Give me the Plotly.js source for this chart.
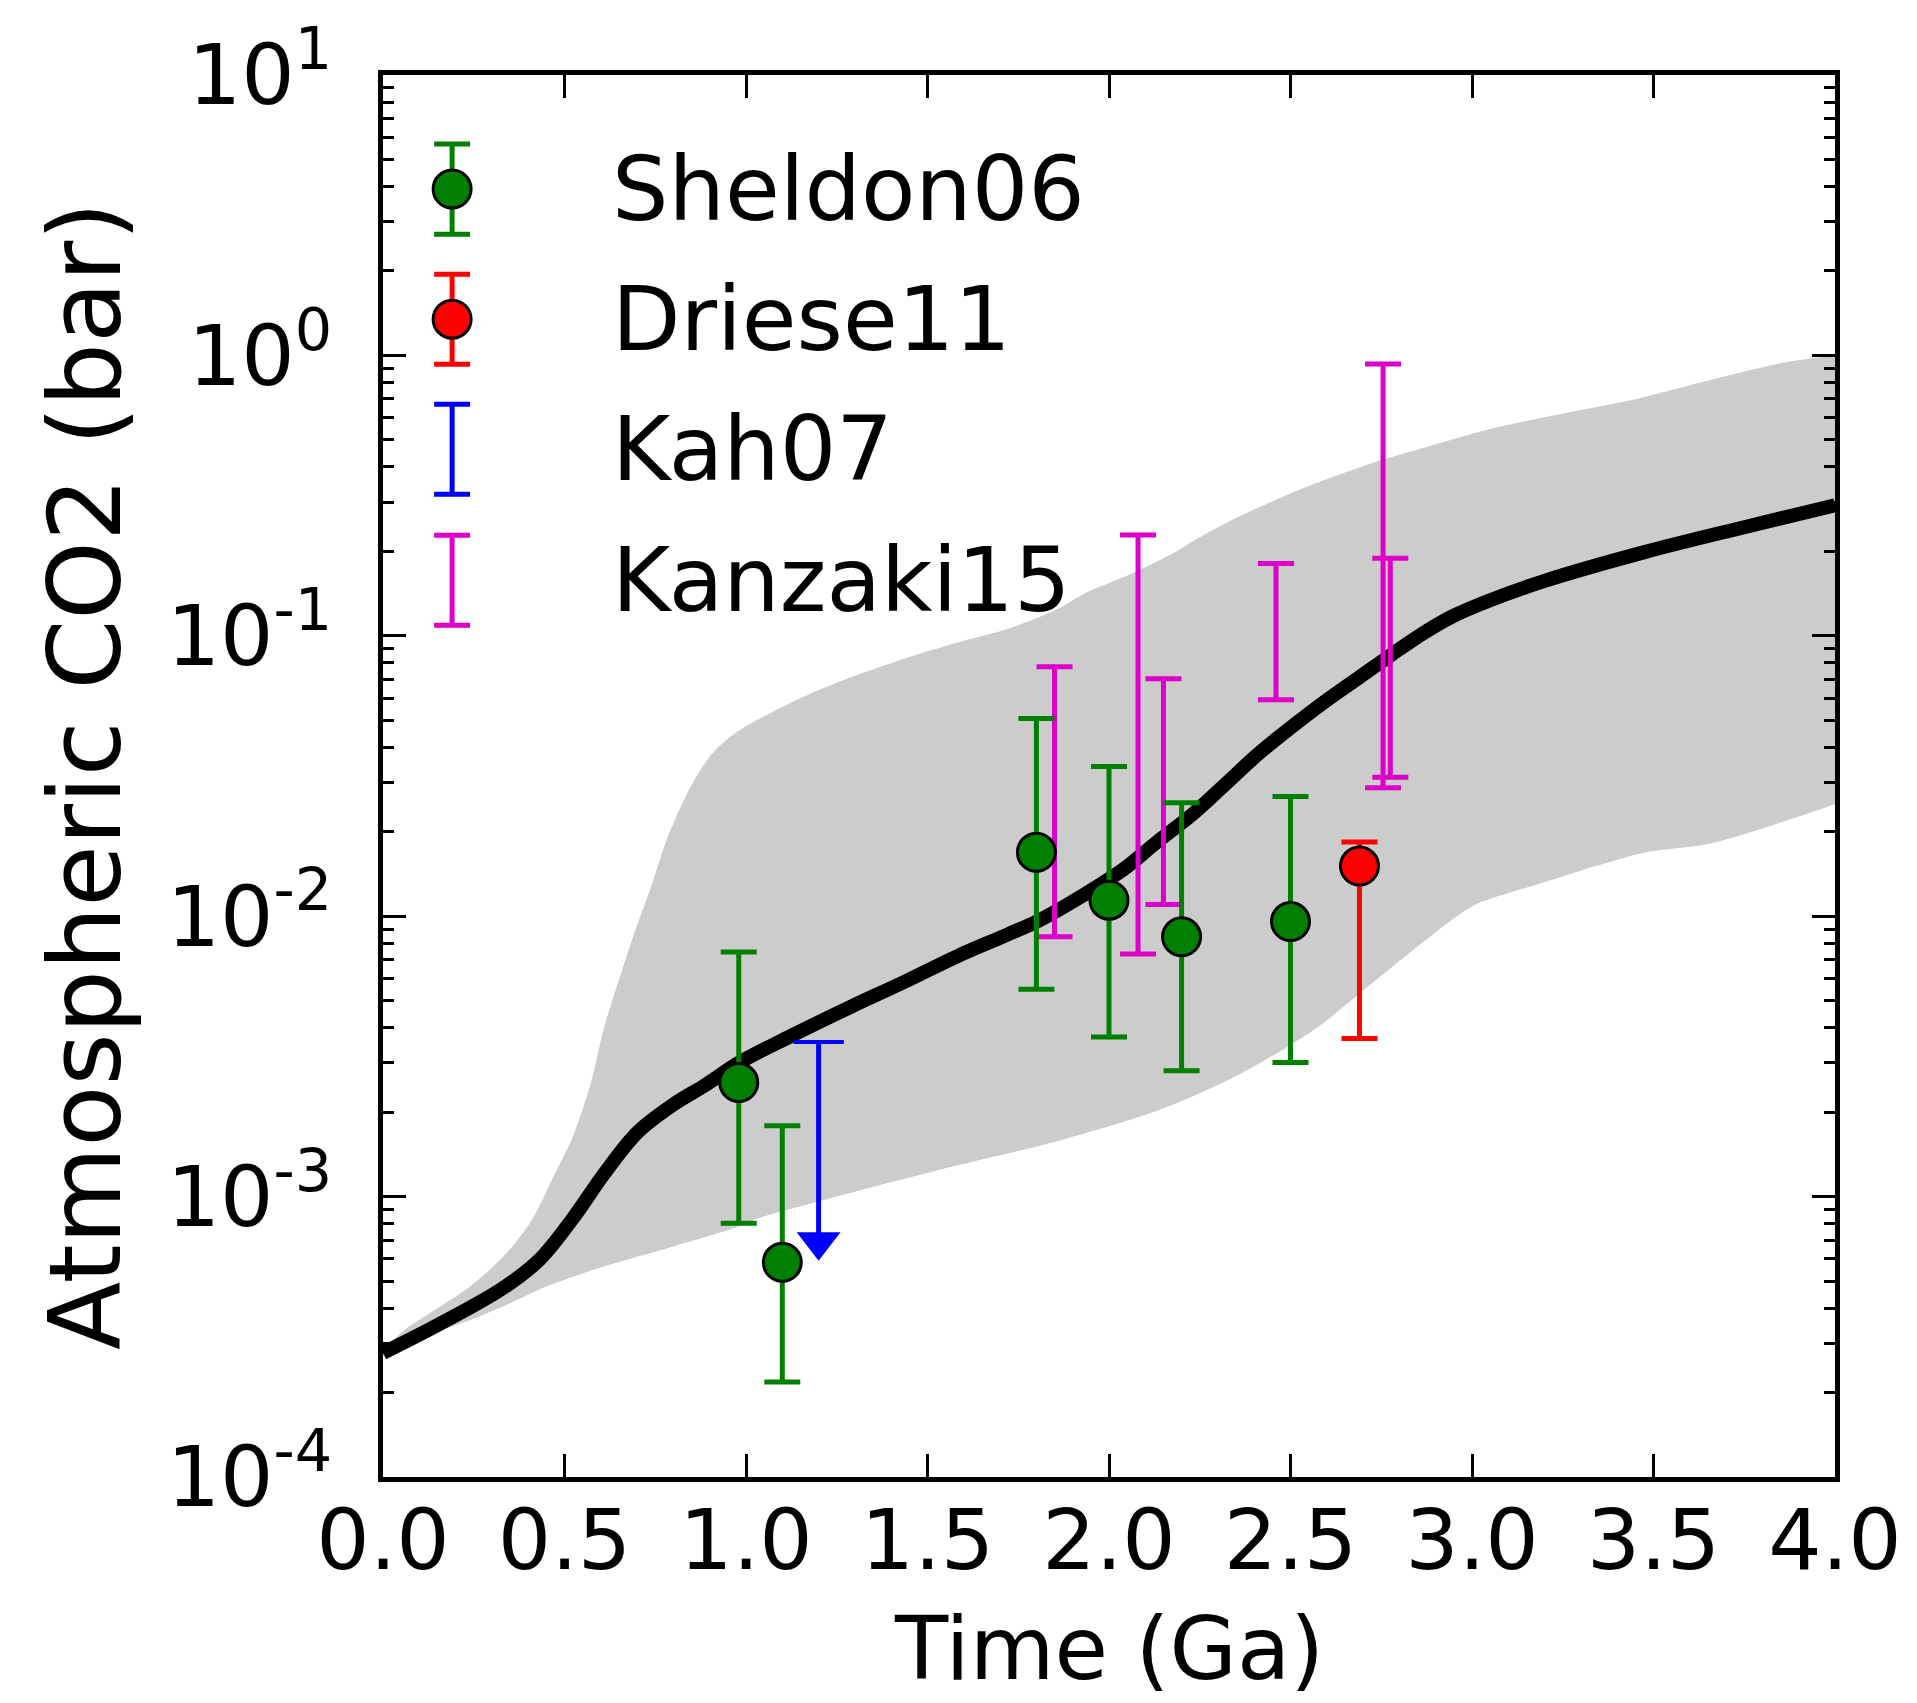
<!DOCTYPE html>
<html>
<head>
<meta charset="utf-8">
<script src="https://cdn.plot.ly/plotly-3.0.1.min.js"></script>
<style>html,body{margin:0;padding:0;background:#fff;}#chart{width:1917px;height:1703px;}</style>
</head>
<body>
<div id="chart"></div>
<script>
// ---- model curve (median) ----
const curveTime = [0, 0.15, 0.33, 0.43, 0.52, 0.61, 0.70, 0.80, 0.89, 0.98, 1.12, 1.29, 1.44, 1.58, 1.72, 1.81, 1.93, 2.04, 2.13, 2.23, 2.32, 2.41, 2.50, 2.59, 2.69, 2.78, 2.87, 2.95, 3.05, 3.20, 3.47, 3.75, 4.00];
const curveCO2 = [2.77e-4, 3.48e-4, 4.71e-4, 5.94e-4, 8.26e-4, 1.21e-3, 1.69e-3, 2.13e-3, 2.51e-3, 3.0e-3, 3.72e-3, 4.76e-3, 5.86e-3, 7.18e-3, 8.6e-3, 9.7e-3, 0.0119, 0.0147, 0.0183, 0.0231, 0.0295, 0.0378, 0.047, 0.0577, 0.0712, 0.0860, 0.103, 0.118, 0.134, 0.157, 0.198, 0.244, 0.292];

// ---- shaded range ----
const bandUpperTime = [0, 0.06, 0.24, 0.34, 0.41, 0.47, 0.52, 0.57, 0.61, 0.66, 0.70, 0.74, 0.78, 0.82, 0.86, 0.91, 0.96, 1.02, 1.16, 1.30, 1.44, 1.58, 1.72, 1.86, 1.93, 2.06, 2.18, 2.24, 2.36, 2.55, 2.73, 2.87, 3.05, 3.24, 3.45, 3.63, 3.86, 4.00];
const bandUpperCO2 = [2.85e-4, 3.35e-4, 4.78e-4, 6.28e-4, 8.26e-4, 1.18e-3, 1.6e-3, 2.47e-3, 4.05e-3, 6.5e-3, 9.3e-3, 0.0129, 0.0185, 0.0245, 0.031, 0.0384, 0.044, 0.0493, 0.0608, 0.072, 0.0832, 0.0944, 0.1057, 0.125, 0.141, 0.166, 0.198, 0.221, 0.267, 0.342, 0.415, 0.469, 0.546, 0.617, 0.698, 0.80, 0.944, 1.0];
const bandLowerTime = [0, 0.06, 0.24, 0.34, 0.45, 0.61, 0.80, 0.98, 1.02, 1.30, 1.58, 1.86, 2.14, 2.36, 2.57, 2.71, 2.85, 2.94, 3.01, 3.19, 3.47, 3.66, 4.00];
const bandLowerCO2 = [2.7e-4, 3.0e-4, 3.63e-4, 4.11e-4, 4.78e-4, 5.64e-4, 6.64e-4, 7.82e-4, 8.26e-4, 1.04e-3, 1.29e-3, 1.58e-3, 2.04e-3, 2.73e-3, 3.98e-3, 5.57e-3, 7.8e-3, 9.6e-3, 0.011, 0.0131, 0.0168, 0.0182, 0.0251];

// ---- Sheldon06 ----
const sheldonTime = [0.98, 1.10, 1.80, 2.00, 2.20, 2.50];
const sheldonCO2 = [2.55e-3, 5.83e-4, 0.0169, 0.0114, 8.44e-3, 9.57e-3];
const sheldonHigh = [7.45e-3, 1.79e-3, 0.0507, 0.0342, 0.0254, 0.0267];
const sheldonLow = [8.03e-4, 2.18e-4, 5.49e-3, 3.71e-3, 2.81e-3, 3.01e-3];

// ---- Driese11 ----
const drieseTime = [2.69];
const drieseCO2 = [0.0151];
const drieseHigh = [0.0184];
const drieseLow = [3.66e-3];

// ---- Kah07 (upper limit) ----
const kahTime = [1.20];
const kahUpper = [3.56e-3];
const kahArrow = [6.9e-4];

// ---- Kanzaki15 (ranges) ----
const kanzakiTime = [1.85, 2.08, 2.15, 2.46, 2.755, 2.775];
const kanzakiHigh = [0.0776, 0.229, 0.0703, 0.181, 0.931, 0.189];
const kanzakiLow = [8.45e-3, 7.33e-3, 0.0110, 0.0592, 0.0287, 0.0313];

// ---- axis ticks ----
const xTickVals = [0, 0.5, 1.0, 1.5, 2.0, 2.5, 3.0, 3.5, 4.0];
const yTickVals = [1e-4, 1e-3, 1e-2, 1e-1, 1e0, 1e1];
const yTickText = ['10<sup>-4</sup>', '10<sup>-3</sup>', '10<sup>-2</sup>', '10<sup>-1</sup>', '10<sup>0</sup>', '10<sup>1</sup>'];

// ---- legend ----
const legendLabels = ['Sheldon06', 'Driese11', 'Kah07', 'Kanzaki15'];
const legendColors = ['#007f00', '#ff0000', '#0000ff', '#dd00c8'];
const legendHasMarker = [true, true, false, false];

const FONT = 'DejaVu Sans, Liberation Sans, sans-serif';
const GREEN = '#007f00', RED = '#ff0000', BLUE = '#0000ff', MAG = '#dd00c8';
const EB_T = 5, EB_W = 18, MK = 38;

const traces = [];
traces.push({x: bandLowerTime, y: bandLowerCO2, mode: 'lines', line: {width: 0, color: '#cccccc', shape: 'spline', smoothing: 0.8}, hoverinfo: 'skip', showlegend: false});
traces.push({x: bandUpperTime, y: bandUpperCO2, mode: 'lines', line: {width: 0, color: '#cccccc', shape: 'spline', smoothing: 0.8}, fill: 'tonexty', fillcolor: '#cccccc', hoverinfo: 'skip', showlegend: false});
traces.push({x: curveTime, y: curveCO2, mode: 'lines', line: {color: '#000000', width: 14, shape: 'spline', smoothing: 1}, showlegend: false});

// Kanzaki15 ranges
const kzMid = kanzakiHigh.map((h, i) => Math.sqrt(h * kanzakiLow[i]));
traces.push({x: kanzakiTime, y: kzMid, mode: 'markers', marker: {size: 2, opacity: 0},
  error_y: {type: 'data', symmetric: false, array: kanzakiHigh.map((h, i) => h - kzMid[i]), arrayminus: kanzakiLow.map((l, i) => kzMid[i] - l), color: MAG, thickness: EB_T, width: EB_W},
  showlegend: false});
// Sheldon06
traces.push({x: sheldonTime, y: sheldonCO2, mode: 'markers', marker: {size: MK, color: GREEN, line: {color: '#000', width: 3}},
  error_y: {type: 'data', symmetric: false, array: sheldonHigh.map((h, i) => h - sheldonCO2[i]), arrayminus: sheldonLow.map((l, i) => sheldonCO2[i] - l), color: GREEN, thickness: EB_T, width: EB_W},
  showlegend: false});
// Driese11
traces.push({x: drieseTime, y: drieseCO2, mode: 'markers', marker: {size: MK, color: RED, line: {color: '#000', width: 3}},
  error_y: {type: 'data', symmetric: false, array: drieseHigh.map((h, i) => h - drieseCO2[i]), arrayminus: drieseLow.map((l, i) => drieseCO2[i] - l), color: RED, thickness: EB_T, width: EB_W},
  showlegend: false});
// Kah07 upper limit arrow
traces.push({x: [kahTime[0], kahTime[0]], y: [kahUpper[0], kahArrow[0]], mode: 'lines+markers',
  line: {color: BLUE, width: EB_T},
  marker: {symbol: ['line-ew', 'triangle-down'], size: [36, 38], color: BLUE, opacity: 1, line: {color: BLUE, width: [4, 0]}},
  showlegend: false});

// legend symbols on overlay axes (0..1 box)
const legX = 0.0476, legRows = [0.9186, 0.8258, 0.7331, 0.6396], legHalf = 0.0321;
legendLabels.forEach((lab, i) => {
  traces.push({x: [legX], y: [legRows[i]], xaxis: 'x2', yaxis: 'y2', mode: 'markers',
    marker: legendHasMarker[i] ? {size: MK, color: legendColors[i], line: {color: '#000', width: 3}} : {size: 2, opacity: 0},
    error_y: {type: 'constant', value: legHalf, color: legendColors[i], thickness: EB_T, width: EB_W},
    showlegend: false, hoverinfo: 'skip'});
});

const annotations = legendLabels.map((lab, i) => ({
  text: lab, xref: 'paper', yref: 'paper', x: 0.156, y: legRows[i], xanchor: 'left', yanchor: 'middle',
  showarrow: false, font: {family: FONT, size: 89, color: '#000'}
}));
annotations.push({text: 'Time (Ga)', xref: 'paper', yref: 'paper', x: 0.5, y: -0.1228, xanchor: 'center', yanchor: 'middle', showarrow: false, font: {family: FONT, size: 87, color: '#000'}});
annotations.push({text: 'Atmospheric CO2 (bar)', xref: 'paper', yref: 'paper', x: -0.2052, y: 0.5, xanchor: 'center', yanchor: 'middle', textangle: -90, showarrow: false, font: {family: FONT, size: 100, color: '#000'}});

const layout = {
  width: 1917, height: 1703,
  margin: {l: 383, r: 82, t: 75, b: 226},
  paper_bgcolor: '#ffffff', plot_bgcolor: '#ffffff',
  showlegend: false,
  font: {family: FONT, color: '#000'},
  xaxis: {range: [0, 4], tickvals: xTickVals, tickformat: '.1f', ticks: 'inside', ticklen: 23, tickwidth: 3, tickcolor: '#000',
    showline: true, linewidth: 5, linecolor: '#000', mirror: 'ticks', showgrid: false, zeroline: false,
    tickfont: {family: FONT, size: 84, color: '#000'}, ticklabelstandoff: -14},
  yaxis: {type: 'log', range: [-4, 1], tickmode: 'array', tickvals: yTickVals, ticktext: yTickText, ticks: 'inside', ticklen: 23, tickwidth: 3, tickcolor: '#000',
    minor: {ticks: 'inside', ticklen: 11, tickwidth: 3, tickcolor: '#000', dtick: 'D1', showgrid: false},
    showline: true, linewidth: 5, linecolor: '#000', mirror: 'ticks', showgrid: false, zeroline: false,
    tickfont: {family: FONT, size: 84, color: '#000'}, ticklabelstandoff: 29},
  xaxis2: {overlaying: 'x', range: [0, 1], visible: false, anchor: 'y2', fixedrange: true},
  yaxis2: {overlaying: 'y', range: [0, 1], visible: false, anchor: 'x2', fixedrange: true},
  annotations: annotations
};

Plotly.newPlot('chart', traces, layout, {staticPlot: true});
</script>
</body>
</html>
